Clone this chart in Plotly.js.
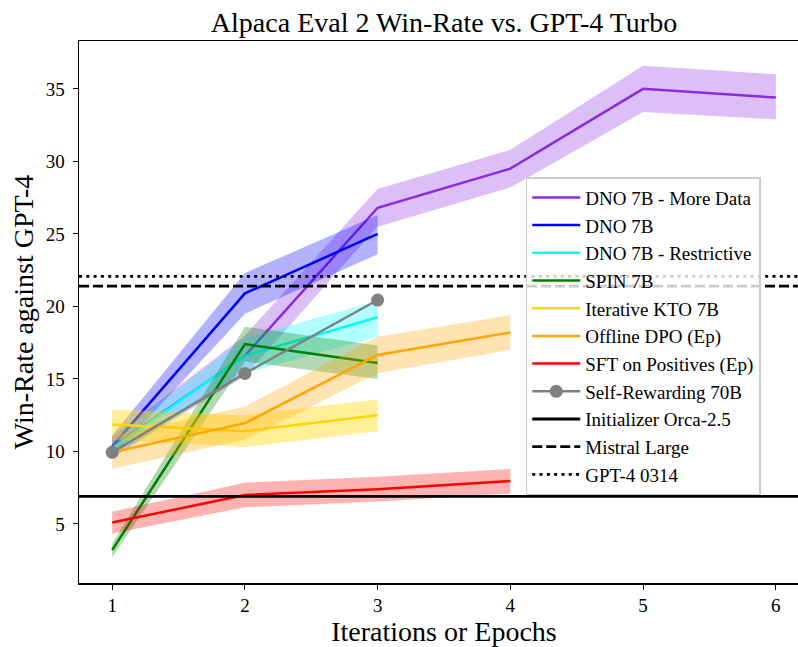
<!DOCTYPE html>
<html>
<head>
<meta charset="utf-8">
<script src="https://cdn.plot.ly/plotly-3.0.1.min.js"></script>
<style>
html,body{margin:0;padding:0;overflow:hidden;background:#fff;}
#chart{width:810px;height:647px;}
</style>
</head>
<body>
<div id="chart"></div>
<script>
// ---- data ----
const xMoreData = [1, 2, 3, 4, 5, 6];
const dnoMoreData = [10.3, 16.6, 26.8, 29.5, 35.0, 34.4];
const dnoMoreDataHi = [11.0, 18.0, 28.1, 30.8, 36.6, 36.0];
const dnoMoreDataLo = [9.6, 15.2, 25.5, 28.2, 33.4, 32.9];

const x3 = [1, 2, 3];
const dno7b = [10.35, 20.9, 25.0];
const dno7bHi = [11.1, 22.3, 26.3];
const dno7bLo = [9.6, 19.5, 23.6];

const dnoRestrictive = [10.2, 16.6, 19.25];
const dnoRestrictiveHi = [10.9, 17.8, 20.4];
const dnoRestrictiveLo = [9.5, 15.4, 17.9];

const spin7b = [3.2, 17.4, 16.1];
const spin7bHi = [3.65, 18.6, 17.3];
const spin7bLo = [2.7, 16.2, 15.0];

const kto7b = [11.85, 11.4, 12.5];
const kto7bHi = [12.9, 12.5, 13.6];
const kto7bLo = [10.8, 10.3, 11.4];

const x4 = [1, 2, 3, 4];
const offlineDpo = [9.95, 11.95, 16.65, 18.2];
const offlineDpoHi = [11.1, 13.1, 17.9, 19.4];
const offlineDpoLo = [8.8, 10.8, 15.4, 17.0];

const sftPos = [5.1, 7.0, 7.4, 7.97];
const sftPosHi = [5.85, 7.85, 8.25, 8.8];
const sftPosLo = [4.35, 6.15, 6.55, 7.1];

const selfReward = [9.94, 15.38, 20.44];

const orcaInit = 6.9;
const mistralLarge = 21.4;
const gpt4_0314 = 22.07;

const xRange = [0.75, 6.25];
const yRange = [0.93, 38.3];
const xTicks = [1, 2, 3, 4, 5, 6];
const yTicks = [5, 10, 15, 20, 25, 30, 35];

// ---- build ----
const FONT = "Liberation Serif";
const traces = [];
let g = 0;
function band(xs, lo, hi, rgba) {
  return {
    x: xs.concat(xs.slice().reverse()),
    y: hi.concat(lo.slice().reverse()),
    fill: 'toself', fillcolor: rgba, mode: 'lines',
    line: {width: 0, color: rgba}, showlegend: false, hoverinfo: 'skip'
  };
}
function series(name, xs, ys, lo, hi, color, rgba) {
  g++;
  const b = band(xs, lo, hi, rgba); b.legendgroup = 'g' + g;
  traces.push(b);
  traces.push({x: xs, y: ys, mode: 'lines', name: name, legendgroup: 'g' + g,
    line: {color: color, width: 2.5}});
}
series('DNO 7B - More Data', xMoreData, dnoMoreData, dnoMoreDataLo, dnoMoreDataHi, '#8a2be2', 'rgba(138,43,226,0.3)');
series('DNO 7B', x3, dno7b, dno7bLo, dno7bHi, '#0000ff', 'rgba(0,0,255,0.3)');
series('DNO 7B - Restrictive', x3, dnoRestrictive, dnoRestrictiveLo, dnoRestrictiveHi, '#00ffff', 'rgba(0,255,255,0.3)');
series('SPIN 7B', x3, spin7b, spin7bLo, spin7bHi, '#008000', 'rgba(0,128,0,0.3)');
series('Iterative KTO 7B', x3, kto7b, kto7bLo, kto7bHi, '#ffd700', 'rgba(255,215,0,0.4)');
series('Offline DPO (Ep)', x4, offlineDpo, offlineDpoLo, offlineDpoHi, '#ffa500', 'rgba(255,165,0,0.3)');
series('SFT on Positives (Ep)', x4, sftPos, sftPosLo, sftPosHi, '#ff0000', 'rgba(255,0,0,0.3)');
g++;
traces.push({x: x3, y: selfReward, mode: 'lines+markers', name: 'Self-Rewarding 70B', legendgroup: 'g' + g,
  line: {color: '#808080', width: 2.5}, marker: {color: '#808080', size: 13}});
function hline(name, yv, dash) {
  g++;
  traces.push({x: xRange, y: [yv, yv], mode: 'lines', name: name, legendgroup: 'g' + g,
    line: {color: '#000000', width: 2.8, dash: dash}});
}
hline('Initializer Orca-2.5', orcaInit, 'solid');
hline('Mistral Large', mistralLarge, '10px,4px');
hline('GPT-4 0314', gpt4_0314, '3px,4.3px');

const layout = {
  width: 810, height: 647,
  margin: {l: 79, r: 1, t: 41, b: 64},
  paper_bgcolor: '#fff', plot_bgcolor: '#fff',
  font: {family: FONT, color: '#000', size: 19},
  title: {text: 'Alpaca Eval 2 Win-Rate vs. GPT-4 Turbo', font: {family: FONT, size: 28, color: '#000'},
    x: 0.5, xref: 'paper', xanchor: 'center', y: 0.965, yref: 'container', yanchor: 'middle'},
  xaxis: {range: xRange, tickvals: xTicks, ticktext: xTicks.map(String),
    showgrid: false, zeroline: false, showline: true, linecolor: '#000', linewidth: 1.5, mirror: true,
    ticks: 'outside', ticklen: 5, tickwidth: 1, tickcolor: '#000',
    tickfont: {family: FONT, size: 19},
    title: {text: 'Iterations or Epochs', font: {family: FONT, size: 28}, standoff: 6}},
  yaxis: {range: yRange, tickvals: yTicks, ticktext: yTicks.map(String),
    showgrid: false, zeroline: false, showline: true, linecolor: '#000', linewidth: 1.5, mirror: true,
    ticks: 'outside', ticklen: 5, tickwidth: 1, tickcolor: '#000', ticklabelstandoff: 4,
    tickfont: {family: FONT, size: 19},
    title: {text: 'Win-Rate against GPT-4', font: {family: FONT, size: 28}, standoff: 4}},
  legend: {x: 0.612, y: 0.749, xanchor: 'left', yanchor: 'top', itemwidth: 48,
    bgcolor: 'rgba(255,255,255,0.8)', bordercolor: '#cccccc', borderwidth: 1.5,
    font: {family: FONT, size: 19, color: '#000'}, tracegroupgap: 0, traceorder: 'grouped'},
  showlegend: true
};
Plotly.newPlot('chart', traces, layout, {displayModeBar: false, staticPlot: true});
</script>
</body>
</html>
